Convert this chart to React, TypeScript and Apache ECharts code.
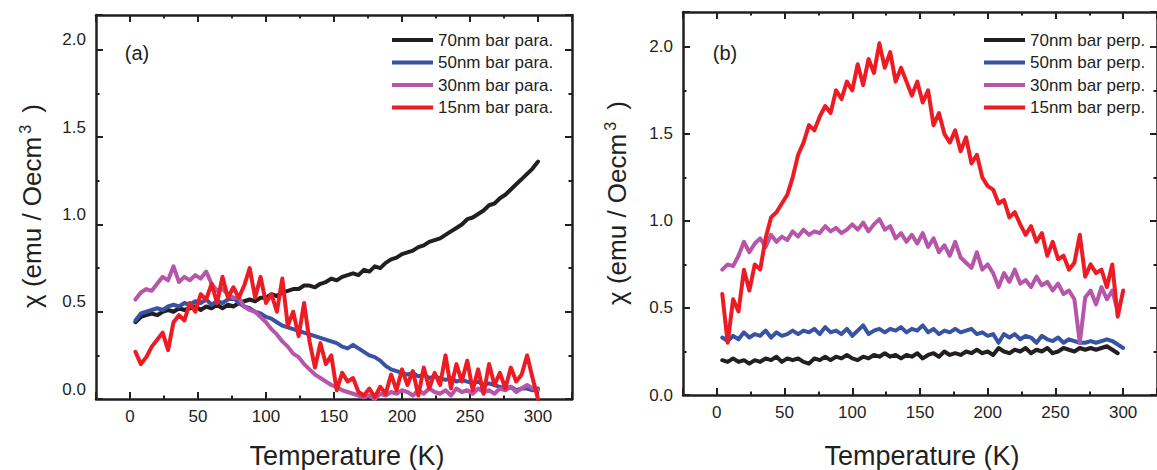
import React, { useEffect, useRef } from "react";
import * as echarts from "echarts";

// Temperature grid (K)
const temps = [
  4, 8, 12, 16, 20, 24, 28, 32, 36, 40,
  44, 48, 52, 56, 60, 64, 68, 72, 76, 80,
  84, 88, 92, 96, 100, 104, 108, 112, 116, 120,
  124, 128, 132, 136, 140, 144, 148, 152, 156, 160,
  164, 168, 172, 176, 180, 184, 188, 192, 196, 200,
  204, 208, 212, 216, 220, 224, 228, 232, 236, 240,
  244, 248, 252, 256, 260, 264, 268, 272, 276, 280,
  284, 288, 292, 296, 300,
];

const xTickLabels = ["0", "50", "100", "150", "200", "250", "300"];
const yTickLabels = ["0.0", "0.5", "1.0", "1.5", "2.0"];

const namesA = ["70nm bar para.", "50nm bar para.", "30nm bar para.", "15nm bar para."];
const namesB = ["70nm bar perp.", "50nm bar perp.", "30nm bar perp.", "15nm bar perp."];

// (a) parallel
const para70 = [
  0.44, 0.47, 0.48, 0.49, 0.48, 0.50, 0.51, 0.50, 0.52, 0.51,
  0.52, 0.53, 0.51, 0.53, 0.52, 0.54, 0.52, 0.54, 0.53, 0.55,
  0.56, 0.57, 0.56, 0.58, 0.58, 0.60, 0.59, 0.61, 0.62, 0.63,
  0.63, 0.65, 0.65, 0.64, 0.66, 0.67, 0.69, 0.68, 0.70, 0.71,
  0.72, 0.71, 0.74, 0.73, 0.76, 0.75, 0.78, 0.80, 0.81, 0.83,
  0.84, 0.85, 0.87, 0.88, 0.90, 0.91, 0.92, 0.94, 0.96, 0.98,
  1.00, 1.03, 1.04, 1.06, 1.08, 1.11, 1.12, 1.15, 1.17, 1.20,
  1.23, 1.26, 1.29, 1.32, 1.36,
];
const para50 = [
  0.45, 0.49, 0.50, 0.51, 0.52, 0.51, 0.53, 0.54, 0.53, 0.55,
  0.54, 0.56, 0.55, 0.57, 0.54, 0.56, 0.55, 0.57, 0.58, 0.55,
  0.53, 0.52, 0.50, 0.49, 0.47, 0.46, 0.44, 0.42, 0.41, 0.40,
  0.39, 0.38, 0.37, 0.36, 0.35, 0.34, 0.33, 0.32, 0.30, 0.29,
  0.31, 0.29, 0.27, 0.25, 0.24, 0.22, 0.19, 0.17, 0.16, 0.15,
  0.14, 0.15, 0.13, 0.14, 0.12, 0.13, 0.12, 0.11, 0.12, 0.10,
  0.11, 0.10, 0.09, 0.10, 0.08, 0.09, 0.08, 0.07, 0.06, 0.07,
  0.05, 0.06, 0.06, 0.05, 0.06,
];
const para30 = [
  0.57, 0.61, 0.63, 0.62, 0.66, 0.70, 0.68, 0.76, 0.67, 0.70,
  0.68, 0.71, 0.69, 0.73, 0.66, 0.62, 0.63, 0.60, 0.58, 0.58,
  0.53, 0.51, 0.50, 0.47, 0.44, 0.40, 0.37, 0.33, 0.30, 0.26,
  0.24, 0.20, 0.17, 0.14, 0.12, 0.10, 0.08, 0.07, 0.05, 0.04,
  0.03, 0.02, 0.01, 0.02, 0.00, 0.03, 0.02, 0.04, 0.03, 0.05,
  0.04, 0.02, 0.05, 0.03, 0.06, 0.04, 0.03, 0.05, 0.02, 0.06,
  0.04, 0.05, 0.03, 0.06, 0.04, 0.05, 0.03, 0.06, 0.05, 0.07,
  0.04, 0.06, 0.08, 0.06, 0.05,
];
const para15 = [
  0.27, 0.20, 0.24, 0.30, 0.34, 0.38, 0.28, 0.44, 0.48, 0.45,
  0.55, 0.50, 0.60, 0.57, 0.66, 0.55, 0.70, 0.58, 0.64, 0.58,
  0.65, 0.75, 0.58, 0.70, 0.55, 0.60, 0.50, 0.69, 0.42, 0.50,
  0.36, 0.55, 0.33, 0.18, 0.32, 0.20, 0.25, 0.05, 0.15, 0.10,
  0.12, 0.04, 0.02, 0.06, 0.01, 0.07, 0.03, 0.14, 0.05, 0.17,
  0.08, 0.16, 0.02, 0.18, 0.06, 0.15, 0.08, 0.25, 0.06, 0.20,
  0.10, 0.22, 0.05, 0.17, 0.03, 0.20, 0.08, 0.15, 0.06, 0.18,
  0.10, 0.14, 0.25, 0.12, 0.00,
];

// (b) perpendicular
const perp70 = [
  0.20, 0.19, 0.21, 0.19, 0.20, 0.18, 0.20, 0.19, 0.21, 0.20,
  0.22, 0.19, 0.21, 0.20, 0.21, 0.19, 0.18, 0.21, 0.20, 0.22,
  0.20, 0.22, 0.21, 0.23, 0.21, 0.20, 0.22, 0.21, 0.23, 0.22,
  0.24, 0.22, 0.23, 0.21, 0.23, 0.22, 0.24, 0.21, 0.23, 0.24,
  0.22, 0.25, 0.23, 0.24, 0.23, 0.25, 0.24, 0.26, 0.24, 0.25,
  0.23, 0.27, 0.25, 0.24, 0.26, 0.25, 0.27, 0.24, 0.26, 0.25,
  0.27, 0.24, 0.25, 0.27, 0.26, 0.25, 0.27, 0.26, 0.27, 0.26,
  0.27, 0.28, 0.26, 0.24, null,
];
const perp50 = [
  0.33, 0.31, 0.34, 0.32, 0.36, 0.33, 0.35, 0.34, 0.37, 0.33,
  0.36, 0.34, 0.35, 0.37, 0.35, 0.37, 0.36, 0.38, 0.35, 0.39,
  0.36, 0.37, 0.35, 0.38, 0.34, 0.37, 0.40, 0.35, 0.37, 0.38,
  0.36, 0.38, 0.37, 0.39, 0.36, 0.38, 0.37, 0.40, 0.36, 0.38,
  0.35, 0.37, 0.36, 0.38, 0.36, 0.37, 0.38, 0.35, 0.36, 0.34,
  0.35, 0.30, 0.35, 0.33, 0.35, 0.32, 0.34, 0.33, 0.30, 0.34,
  0.32, 0.31, 0.33, 0.30, 0.32, 0.31, 0.30, 0.30, 0.31, 0.30,
  0.31, 0.32, 0.31, 0.29, 0.27,
];
const perp30 = [
  0.72, 0.75, 0.74, 0.80, 0.88, 0.82, 0.87, 0.90, 0.85, 0.92,
  0.88, 0.91, 0.89, 0.94, 0.91, 0.95, 0.92, 0.94, 0.93, 0.97,
  0.94, 0.96, 0.93, 0.95, 0.98, 0.95, 0.99, 0.94, 0.98, 1.01,
  0.95, 0.97, 0.90, 0.93, 0.88, 0.92, 0.87, 0.93, 0.85, 0.90,
  0.82, 0.86, 0.80, 0.88, 0.79, 0.76, 0.73, 0.82, 0.72, 0.75,
  0.70, 0.62, 0.70, 0.65, 0.72, 0.64, 0.66, 0.62, 0.68, 0.63,
  0.65, 0.60, 0.64, 0.58, 0.60, 0.55, 0.30, 0.56, 0.60, 0.52,
  0.62, 0.55, 0.60, 0.48, null,
];
const perp15 = [
  0.58, 0.30, 0.55, 0.48, 0.72, 0.60, 0.75, 0.72, 0.90, 1.02,
  1.05, 1.10, 1.15, 1.25, 1.38, 1.45, 1.55, 1.52, 1.60, 1.66,
  1.62, 1.75, 1.70, 1.80, 1.75, 1.90, 1.78, 1.93, 1.85, 2.02,
  1.88, 1.97, 1.80, 1.88, 1.80, 1.72, 1.80, 1.68, 1.75, 1.55,
  1.62, 1.50, 1.45, 1.52, 1.40, 1.48, 1.33, 1.38, 1.25, 1.20,
  1.18, 1.10, 1.12, 1.02, 1.05, 0.98, 0.92, 0.97, 0.88, 0.93,
  0.80, 0.88, 0.78, 0.80, 0.72, 0.76, 0.92, 0.68, 0.75, 0.70,
  0.72, 0.62, 0.75, 0.45, 0.60,
];

const colors = ["#231f20", "#3953a4", "#b656a8", "#ed1c24"];
const ink = "#231f20";
const font = "'Liberation Sans', Arial, Helvetica, sans-serif";

const pairs = (vals: (number | null)[]) =>
  temps.map((t, i) => [t, vals[i]]).filter((p) => p[1] !== null);

export default function App() {
  const ref = useRef<HTMLDivElement>(null);

  useEffect(() => {
    if (!ref.current) return;
    const chart = echarts.init(ref.current, undefined, { renderer: "svg" });

    const xAxis = (gi: number, pos: "bottom" | "top") => ({
      type: "value",
      gridIndex: gi,
      position: pos,
      min: -25,
      max: 325,
      splitNumber: 7,
      axisLine: { show: true, onZero: false, lineStyle: { color: ink, width: 2.5 } },
      axisTick: { show: true, inside: true, length: 7, lineStyle: { color: ink, width: 2 } },
      minorTick: { show: true, splitNumber: 2, length: 3.5, lineStyle: { color: ink, width: 2 } },
      axisLabel: {
        show: pos === "bottom",
        showMinLabel: false,
        showMaxLabel: false,
        color: ink,
        fontSize: 17,
        fontFamily: font,
        margin: 9,
        formatter: (v: number) => (xTickLabels.includes(String(v)) ? String(v) : ""),
      },
      splitLine: { show: false },
      minorSplitLine: { show: false },
    });

    const yAxis = (gi: number, pos: "left" | "right", shift: boolean) => ({
      type: "value",
      gridIndex: gi,
      position: pos,
      min: 0,
      max: 2.2,
      interval: 0.5,
      axisLine: { show: true, onZero: false, lineStyle: { color: ink, width: 2.5 } },
      axisTick: { show: true, inside: true, length: 7, lineStyle: { color: ink, width: 2 } },
      minorTick: { show: true, splitNumber: 2, length: 3.5, lineStyle: { color: ink, width: 2 } },
      axisLabel: {
        show: pos === "left",
        showMaxLabel: false,
        color: ink,
        fontSize: 17,
        fontFamily: font,
        margin: 10,
        verticalAlign: shift ? "bottom" : "middle",
        lineHeight: shift ? 20 : 17,
        formatter: (v: number) => {
          const s = v.toFixed(1);
          return yTickLabels.includes(s) ? s : "";
        },
      },
      splitLine: { show: false },
      minorSplitLine: { show: false },
    });

    const mk = (name: string, vals: (number | null)[], ci: number, axisIdx: number) => ({
      type: "line",
      name,
      xAxisIndex: axisIdx,
      yAxisIndex: axisIdx,
      data: pairs(vals),
      showSymbol: false,
      symbol: "none",
      clip: true,
      lineStyle: { color: colors[ci], width: 4, join: "round", cap: "round" },
      itemStyle: { color: colors[ci] },
    });

    const legend = (names: string[], left: number) => ({
      data: names,
      orient: "vertical",
      left,
      top: 26,
      icon: "rect",
      itemWidth: 41,
      itemHeight: 4,
      itemGap: 4.5,
      textStyle: { fontSize: 17, color: ink, fontFamily: font, lineHeight: 18 },
    });

    const yTitle = (x: number, y: number) => ({
      type: "text",
      x,
      y,
      rotation: Math.PI / 2,
      style: {
        text: "{a|χ (emu / Oecm}{s|3}{a| )}",
        align: "center",
        verticalAlign: "middle",
        fill: ink,
        rich: {
          a: { fontSize: 26, fontFamily: font, fill: ink, lineHeight: 30 },
          s: { fontSize: 16, fontFamily: font, fill: ink, verticalAlign: "top", padding: [0, 5, 0, 3] },
        },
      },
    });

    const textAt = (text: string, x: number, y: number, size: number) => ({
      type: "text",
      x,
      y,
      style: { text, fontSize: size, fontFamily: font, fill: ink, align: "center", verticalAlign: "middle" },
    });

    chart.setOption({
      animation: false,
      backgroundColor: "#ffffff",
      grid: [
        { left: 96, top: 15, width: 476, height: 384 },
        { left: 683, top: 12, width: 478, height: 383 },
      ],
      xAxis: [xAxis(0, "bottom"), xAxis(0, "top"), xAxis(1, "bottom"), xAxis(1, "top")],
      yAxis: [yAxis(0, "left", true), yAxis(0, "right", false), yAxis(1, "left", false), yAxis(1, "right", false)],
      legend: [legend(namesA, 387), legend(namesB, 979)],
      series: [
        mk(namesA[0], para70, 0, 0),
        mk(namesA[1], para50, 1, 0),
        mk(namesA[2], para30, 2, 0),
        mk(namesA[3], para15, 3, 0),
        mk(namesB[0], perp70, 0, 2),
        mk(namesB[1], perp50, 1, 2),
        mk(namesB[2], perp30, 2, 2),
        mk(namesB[3], perp15, 3, 2),
      ],
      graphic: [
        textAt("(a)", 137, 53, 20),
        textAt("(b)", 725, 53, 20),
        textAt("Temperature (K)", 347, 456, 27),
        textAt("Temperature (K)", 922, 456, 27),
        yTitle(32, 206),
        yTitle(617, 203),
      ],
    });

    return () => chart.dispose();
  }, []);

  return (
    <div
      ref={ref}
      style={{ position: "absolute", left: 0, top: 0, width: 1157, height: 470, background: "#fff" }}
    />
  );
}
